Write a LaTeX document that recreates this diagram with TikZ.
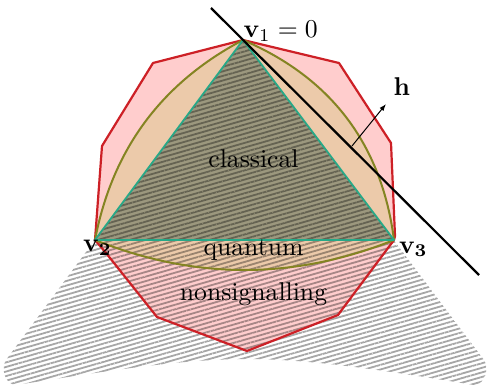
\documentclass[tikz,border=0pt]{standalone}
\usetikzlibrary{patterns.meta,arrows.meta}
\definecolor{nsred}{RGB}{205,32,38}
\definecolor{nspink}{RGB}{255,205,205}
\definecolor{qorange}{RGB}{236,202,170}
\definecolor{qolive}{RGB}{132,132,34}
\definecolor{clteal}{RGB}{40,168,135}
\definecolor{clfill}{RGB}{156,152,126}
\definecolor{hatchgray}{RGB}{168,168,168}
\begin{document}
\begin{tikzpicture}[x=1pt,y=-1pt,
  lbl/.style={scale=2.57, inner sep=0pt},
  nsline/.style={draw=nsred, line width=2.2pt, line join=round},
  qline/.style={draw=qolive, line width=2pt, line join=round},
  cline/.style={draw=clteal, line width=1.8pt, line join=round},
  hatch/.style={pattern={Lines[angle=16,distance=4.4pt,line width=1.8pt]}, pattern color=hatchgray}]
\useasboundingbox (0,0) rectangle (489,387);
\coordinate (v1) at (243,40);
\coordinate (v2) at (95,240);
\coordinate (v3) at (394,240);
\coordinate (l1) at (211,8);
\coordinate (l2) at (479,275);
\coordinate (hs) at (352,146);
\coordinate (he) at (386,104);
% nonsignalling polygon
\def\nspoly{(v1) -- (339,63) -- (391,143) -- (395,236) -- (v3) -- (385,252) -- (338,315) -- (247,351) -- (157,317) -- (106,253) -- (v2) -- (102,146) -- (153,63) -- cycle}
\def\qpath{(v1) .. controls (161.5,82.9) and (112.2,149.6) .. (v2) .. controls (194.7,280) and (294.3,280) .. (v3) .. controls (381.7,144.5) and (331.4,77.9) .. (v1) -- cycle}
\fill[nspink] \nspoly;
\fill[qorange] \qpath;
\fill[clfill] (v1) -- (v2) -- (v3) -- cycle;
% hatched cone
\begin{scope}[blend mode=multiply]
\fill[hatch] (v1) -- (6,360) .. controls (1,368) and (4,384) .. (16,385)
  .. controls (100,372) and (180,359) .. (247,359)
  .. controls (314,359) and (394,372) .. (474,385)
  .. controls (486,384) and (489,368) .. (484,360) -- cycle;
\end{scope}
\path[nsline] \nspoly;
\path[qline] \qpath;
\draw[cline] (v1) -- (v2) -- (v3) -- cycle;
\draw[line width=2.2pt] (l1) -- (l2);
\draw[line width=1pt, -{Latex[length=7pt,width=5pt]}] (hs) -- (he);
\node[lbl, anchor=base west] (lv1) at (243,37.3) {$\mathbf{v}_1=0$};
\node[lbl, anchor=base west] (lv2) at (82.7,251.7) {$\mathbf{v_2}$};
\node[lbl, anchor=base west] (lv3) at (398.5,253) {$\mathbf{v_3}$};
\node[lbl, anchor=base west] (lh) at (393,96) {$\mathbf{h}$};
\node[lbl, anchor=base] (cl) at (253.5,168) {classical};
\node[lbl, anchor=base] (qu) at (253.5,255) {quantum};
\node[lbl, anchor=base] (ns) at (253.5,300) {nonsignalling};
\end{tikzpicture}
\end{document}
